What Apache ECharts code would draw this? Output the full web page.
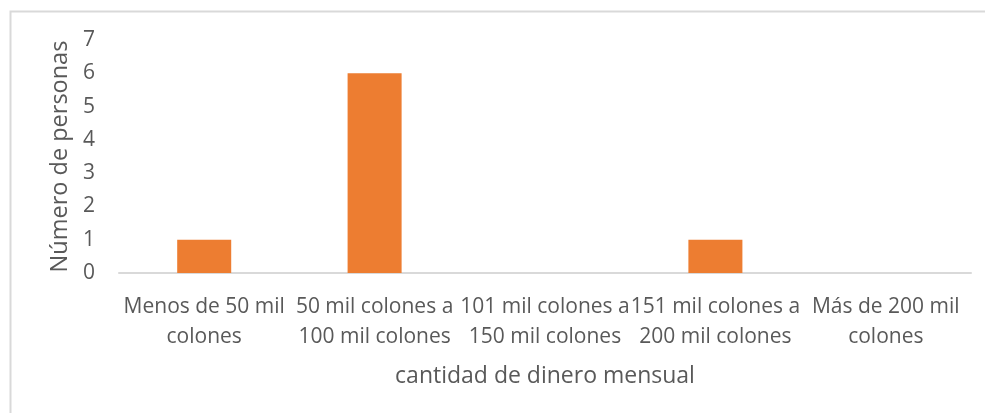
<!DOCTYPE html>
<html>
<head>
<meta charset="utf-8">
<script src="https://cdn.jsdelivr.net/npm/echarts@6/dist/echarts.min.js"></script>
<style>
  html, body { margin: 0; padding: 0; background: #fff; }
  #chart { width: 985px; height: 413px; }
</style>
</head>
<body>
<div id="chart"></div>
<script>
// Monthly income ranges and number of people in each
const categories = [
  'Menos de 50 mil\ncolones',
  '50 mil colones a\n100 mil colones',
  '101 mil colones a\n150 mil colones',
  '151 mil colones a\n200 mil colones',
  'Más de 200 mil\ncolones'
];
const personas = [1, 6, 0, 1, 0];
const yTicks = { min: 0, max: 7, interval: 1 };

const FONT = 'Open Sans';
const TEXT = '#595959';

const chart = echarts.init(document.getElementById('chart'));
chart.setOption({
  animation: false,
  textStyle: { fontFamily: FONT },
  graphic: [{
    type: 'rect',
    shape: { x: 10.5, y: 11.5, width: 1100, height: 600 },
    style: { fill: 'none', stroke: '#d9d9d9', lineWidth: 2 },
    silent: true
  }],
  grid: { left: 119, right: 14, top: 40, bottom: 140 },
  xAxis: {
    type: 'category',
    data: categories,
    name: 'cantidad de dinero mensual',
    nameLocation: 'middle',
    nameGap: 92,
    nameTextStyle: { fontSize: 23, color: TEXT, fontFamily: FONT },
    axisLine: { lineStyle: { color: '#d9d9d9', width: 2 } },
    axisTick: { show: false },
    axisLabel: {
      interval: 0,
      fontSize: 21,
      lineHeight: 30,
      color: TEXT,
      margin: 19,
      fontFamily: FONT
    }
  },
  yAxis: {
    type: 'value',
    min: yTicks.min,
    max: yTicks.max,
    interval: yTicks.interval,
    name: 'Número de personas',
    nameLocation: 'middle',
    nameGap: 47,
    nameRotate: 90,
    nameTextStyle: { fontSize: 23.5, color: TEXT, fontFamily: FONT },
    axisLine: { show: false },
    axisTick: { show: false },
    splitLine: { show: false },
    axisLabel: { fontSize: 21, color: TEXT, margin: 24, fontFamily: FONT }
  },
  series: [{
    type: 'bar',
    data: personas,
    barWidth: '31.7%',
    itemStyle: { color: '#ED7D31' }
  }]
});
</script>
</body>
</html>
